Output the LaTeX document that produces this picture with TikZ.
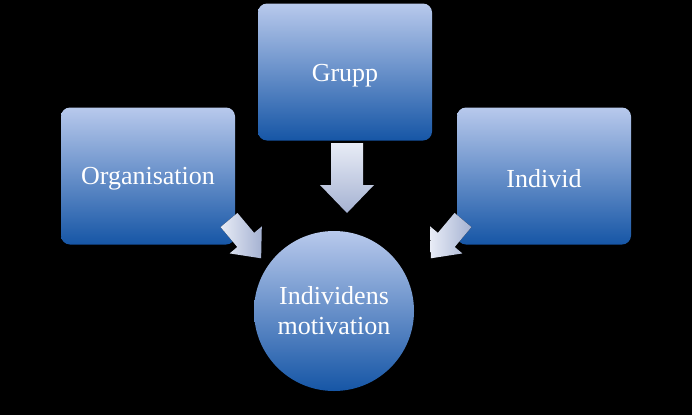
\documentclass[tikz,border=0pt]{standalone}
\usepackage{fontspec}
\setmainfont{Liberation Serif}
\definecolor{topblue}{RGB}{184,201,236}
\definecolor{botblue}{RGB}{22,86,166}
\definecolor{arrtop}{RGB}{232,236,246}
\definecolor{arrbot}{RGB}{165,178,210}
\tikzset{
  box/.style={rectangle,rounded corners=9pt,minimum width=174pt,minimum height=137pt,
    top color=topblue,bottom color=botblue,draw=none,text=white,font=\fontsize{26}{30}\selectfont},
  circ/.style={circle,minimum size=160pt,top color=topblue,bottom color=botblue,draw=none,
    text=white,font=\fontsize{26}{30}\selectfont,align=center},
  barrow/.style={left color=arrtop,right color=arrbot,draw=none}
}
\begin{document}
\begin{tikzpicture}[x=1pt,y=-1pt]
\fill[black] (0,0) rectangle (692,415);
\useasboundingbox (0,0) rectangle (692,415);
\node[box] (grupp) at (345,72) {};
\node[font=\fontsize{26}{30}\selectfont,text=white] (gt) at (345,76) {Grupp};
\node[box] (org) at (148,176) {};
\node[font=\fontsize{26}{30}\selectfont,text=white] (ot) at (148,179) {Organisation};
\node[box] (ind) at (544,176) {};
\node[font=\fontsize{26}{30}\selectfont,text=white] (it) at (544,179) {Individ};
\node[circ] (mot) at (334,311) {Individens\\motivation};
% down arrow
\fill[top color=arrtop,bottom color=arrbot] (331,143) -- (363,143) -- (363,185) -- (374,185) -- (347,213) -- (320,185) -- (331,185) -- cycle;
% diagonal arrows
\begin{scope}[shift={(229,220)},rotate=-50]
\fill[barrow] (0,-11) -- (26,-11) -- (26,-21) -- (50,0) -- (26,21) -- (26,11) -- (0,11) -- cycle;
\end{scope}
\begin{scope}[shift={(463,220)},rotate=-130]
\fill[barrow] (0,-11) -- (26,-11) -- (26,-21) -- (50,0) -- (26,21) -- (26,11) -- (0,11) -- cycle;
\end{scope}
\end{tikzpicture}
\end{document}
